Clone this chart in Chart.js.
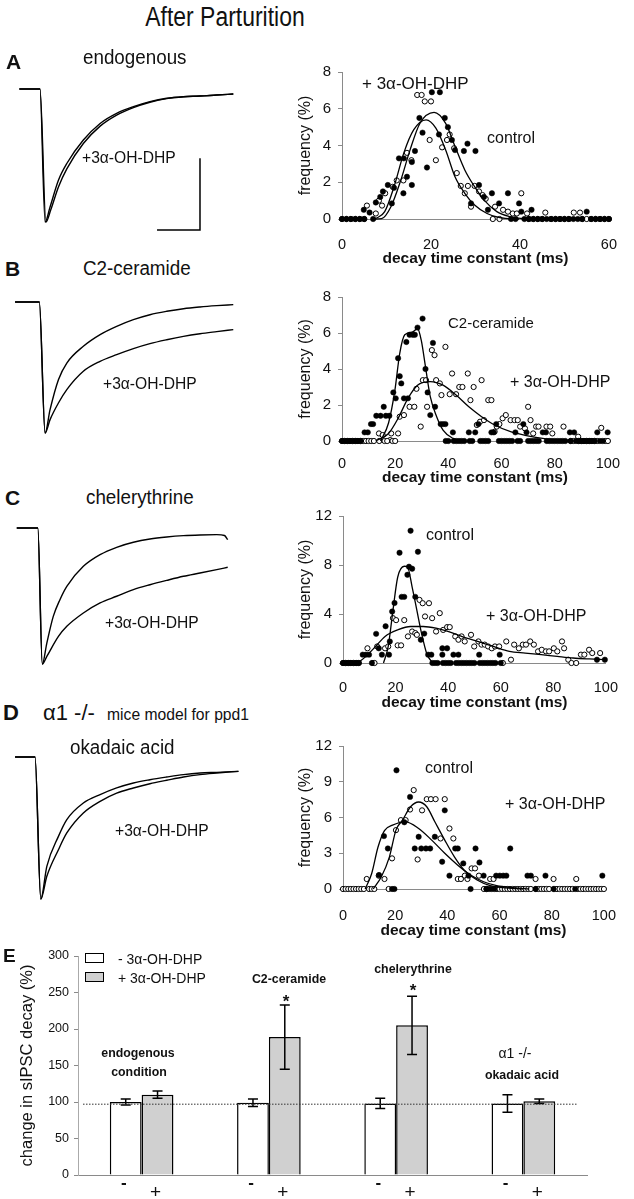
<!DOCTYPE html>
<html>
<head>
<meta charset="utf-8">
<script src="https://cdn.jsdelivr.net/npm/chart.js@4.4.0/dist/chart.umd.min.js"></script>
<style>
  body { margin: 0; background: #fff; }
  #page { position: relative; width: 634px; height: 1199px; overflow: hidden;
          font-family: "Liberation Sans", Arial, sans-serif; color: #111; }
  #page canvas { position: absolute; }
  .lbl { position: absolute; white-space: nowrap; line-height: 1; }
  .box { position: absolute; border: 1.5px solid #000; box-sizing: border-box; }
</style>
</head>
<body>
<div id="page"></div>
<script>
// ---- traces (time in ms, current normalised to control peak) ----
const traceA_ctrl = [[0,0],[9.6,0],[12,-1],[14.3,-0.887],[18.2,-0.686],[22.1,-0.56],[29.8,-0.384],[37.6,-0.259],[45.3,-0.183],[53.1,-0.133],[60.8,-0.095],[68.6,-0.07],[76.4,-0.058],[84.1,-0.053],[91.9,-0.045],[99.6,-0.038]];
const traceA_drug = [[0,0],[9.6,0],[12.4,-1],[14.6,-0.91],[18.2,-0.736],[22.1,-0.6],[29.8,-0.41],[37.6,-0.279],[45.3,-0.196],[53.1,-0.14],[60.8,-0.1],[68.6,-0.072],[76.4,-0.058],[84.1,-0.053],[91.9,-0.045],[99.6,-0.038]];
const scaleBarA = [[64.1,-1.06],[84.1,-1.06],[84.1,-0.52]];
const traceB_ctrl = [[-2,0],[9.3,0],[12,-1],[14.3,-0.822],[18.2,-0.593],[22.1,-0.466],[29.8,-0.338],[37.6,-0.249],[45.3,-0.186],[53.1,-0.135],[60.8,-0.097],[68.6,-0.071],[76.4,-0.051],[84.1,-0.038],[91.9,-0.028],[99.6,-0.02]];
const traceB_drug = [[-2,0],[9.3,0],[12,-1],[14.3,-0.898],[18.2,-0.771],[22.1,-0.669],[29.8,-0.529],[37.6,-0.453],[45.3,-0.402],[53.1,-0.356],[60.8,-0.318],[68.6,-0.288],[76.4,-0.262],[84.1,-0.242],[91.9,-0.226],[99.6,-0.211]];
const traceC_ctrl = [[-1.2,0],[8.6,0],[10.7,-1],[12.8,-0.846],[15.8,-0.65],[18.9,-0.527],[22.1,-0.429],[29.8,-0.282],[37.6,-0.196],[45.3,-0.142],[53.1,-0.105],[60.8,-0.081],[68.6,-0.066],[76.4,-0.056],[84.1,-0.051],[91.9,-0.049],[95.5,-0.055],[97,-0.086]];
const traceC_drug = [[-1.2,0],[8.6,0],[10.7,-1],[12.8,-0.944],[18.2,-0.797],[22.1,-0.723],[29.8,-0.625],[37.6,-0.551],[45.3,-0.502],[53.1,-0.453],[60.8,-0.417],[68.6,-0.385],[76.4,-0.355],[84.1,-0.331],[91.9,-0.306],[97,-0.289]];
const traceD_ctrl = [[-2,0],[7.3,0],[10,-1],[12.8,-0.77],[18.2,-0.559],[22.1,-0.441],[29.8,-0.324],[37.6,-0.265],[45.3,-0.218],[53.1,-0.183],[60.8,-0.16],[68.6,-0.141],[76.4,-0.124],[84.1,-0.113],[91.9,-0.108],[102,-0.101]];
const traceD_drug = [[-2,0],[7.3,0],[10,-1],[12.8,-0.84],[18.2,-0.653],[22.1,-0.535],[29.8,-0.394],[37.6,-0.312],[45.3,-0.254],[53.1,-0.218],[60.8,-0.188],[68.6,-0.164],[76.4,-0.141],[84.1,-0.124],[91.9,-0.113],[102,-0.101]];

// ---- decay time histograms: [tau ms, frequency %] ----
const aCtrl = [[4.9,0.5],[6.2,0.35],[7.6,0.9],[8.6,1.2],[9.2,1.5],[10.3,1.85],[11.2,0.85],[11.7,1.7],[12.8,3.3],[13.8,1.4],[13.9,3.3],[14.6,2.3],[15.7,1.85],[15.7,3.1],[16.4,3.7],[17.4,5.5],[18.1,4.7],[19.1,2.8],[20.2,6.9],[21.8,4.6],[22.0,6.9],[23.1,5.5],[23.8,5.0],[24.7,4.3],[25.4,3.75],[27.4,3.7],[28.2,4.1],[29.0,0.85],[30.0,3.7],[30.8,1.85],[31.9,1.2],[32.8,0.5],[33.7,1.4],[35.3,0.85],[37.3,1.4],[39.8,0.85],[40.3,0.4],[42.6,0.5],[55.0,0.4]];
const aCtrlZero = [0,1,2,3,4,5,7,38,39,41,42,43,44,45,46,47,48,49,50,51,52,53,54,56,57,58,59,60];
const aDrug = [[5.6,0.73],[7.6,0.3],[8.3,1.0],[9.0,0.73],[9.7,1.4],[11.4,1.75],[12.3,2.1],[13.8,2.1],[14.6,3.6],[15.6,3.2],[16.9,6.75],[17.9,6.75],[18.6,6.4],[19.7,4.3],[20.0,6.4],[21.1,3.2],[22.5,3.9],[23.6,4.3],[24.2,4.6],[25.2,3.85],[25.8,2.5],[26.7,1.8],[27.6,1.4],[28.3,1.8],[29.0,0.67],[29.8,1.8],[30.8,1.5],[31.6,1.3],[32.3,1.1],[34.4,0.67],[36.2,0.5],[37.3,0.4],[38.4,0.3],[39.3,0.3],[40.3,1.4],[41.6,0.3],[45.7,0.35],[52.1,0.35],[53.5,0.35]];
const aDrugZero = [0,1,2,3,4,5,33.9,35.4,42,43,44,45,47,48,49,50,51,54,55,56,57,58,59,60];
const aFitCtrl = [[7,0],[8.9,0.02],[11.0,0.67],[13.2,2.1],[15.3,3.76],[17.5,5.2],[20.7,5.8],[23.3,5.2],[25.4,3.95],[27.6,2.67],[29.8,1.76],[31.9,1.04],[34.8,0.4],[37.7,0.13],[41.3,0]];
const aFitDrug = [[7.4,0],[9.6,0.4],[11.7,1.76],[13.9,3.6],[16.1,4.85],[18.9,5.4],[21.1,4.95],[23.3,3.76],[25.4,2.3],[27.6,1.4],[29.8,0.76],[32.6,0.3],[35.5,0.07],[39.8,0]];

const bCtrl = [[8.5,0.48],[9.7,0.48],[10.9,0.94],[11.7,0.94],[12.9,1.4],[14.5,1.4],[15.7,1.9],[16.5,1.4],[17.8,1.4],[19.3,2.7],[20.2,2.37],[21.1,4.6],[21.7,3.6],[22.3,3.2],[23.3,2.37],[24.2,5.5],[24.8,2.37],[25.4,5.9],[26.6,5.9],[27.4,5.9],[28.4,6.3],[30.3,6.8],[31.4,4.0],[32.2,2.7],[33.2,1.44],[34.2,5.45],[35.0,1.9],[37.1,0.94],[38.0,0.94],[38.9,0.94],[41.7,0.48],[47.7,0.48],[50.1,0.48],[51.3,0.94],[56.2,0.48],[57.1,0.48],[58.0,0.94],[65.2,0.48],[68.2,0.94],[69.4,0.48],[75.5,0.48],[76.7,0.48],[85.7,0.48],[87.3,0.48],[96.0,0.48],[99.9,0.48]];
const bCtrlZero = [0,1,2,3,4,5,6,7,39,40,42,43,44,45,46,48,49,52,53,54,55,59,60,61,62,63,64,66,67,70,71,72,73,74,77,78,79,80,81,82,83,84,86,88,89,90,91,92,93,94,95,97,98];
const bDrug = [[13.9,0.42],[15.3,0.33],[18.1,0.05],[18.5,0.42],[21.1,0.42],[21.7,1.35],[23.3,1.44],[25.4,1.9],[27.2,1.9],[28.0,2.9],[29.6,0.8],[30.4,3.38],[31.6,3.38],[32.0,1.9],[33.8,5.05],[34.8,4.77],[35.4,3.38],[36.8,3.2],[37.4,2.55],[38.9,5.23],[40.5,2.6],[41.4,3.75],[42.9,2.6],[44.1,3.0],[45.3,3.0],[47.3,3.75],[48.3,2.27],[49.5,3.0],[50.7,0.89],[51.9,1.07],[52.5,3.38],[53.4,1.16],[55.0,2.27],[56.2,2.27],[57.4,0.52],[58.2,0.8],[59.2,0.94],[60.4,1.26],[61.6,1.44],[63.4,1.16],[64.9,1.16],[66.1,1.16],[67.0,0.8],[68.8,0.7],[70.0,1.9],[70.9,1.16],[71.9,0.42],[73.0,0.8],[73.9,0.8],[76.9,0.8],[78.3,0.8],[79.1,0.42],[83.3,0.8],[88.8,0.24],[97.5,0.73]];
const bDrugZero = [0,1,2,3,4,5,6,7,8,9,10,11,12,14,16,17,19,20,86,87,89,90,91,92,93,94,95,96,99,100];
const bFitCtrl = [[14.5,0],[17.5,1.0],[19.9,2.83],[21.7,4.86],[23.6,5.9],[26.6,6.06],[28.4,6.25],[29.8,5.6],[31.4,4.12],[33.2,2.46],[35.6,1.35],[38.0,0.61],[41.7,0.15],[45.3,0]];
const bFitDrug = [[12.7,0],[17.5,0.42],[21.1,1.26],[24.8,2.37],[28.4,3.1],[33.2,3.3],[38.0,3.1],[42.9,2.55],[47.7,1.9],[52.5,1.35],[57.4,0.89],[63.4,0.52],[69.4,0.3],[75.5,0.15],[81.5,0.06],[87.6,0]];

const cCtrl = [[7.5,0.68],[8.7,0.68],[9.9,0.68],[12.6,2.38],[13.6,1.2],[14.8,0.68],[16.2,3.0],[17.5,0.68],[17.8,1.76],[18.7,4.2],[19.6,4.9],[21.5,9.0],[22.3,5.4],[23.3,5.4],[24.5,7.2],[25.1,7.86],[25.7,10.8],[26.3,7.7],[27.5,5.4],[28.5,9.08],[29.6,1.9],[30.9,2.4],[32.4,0.68],[33.6,0.68],[37.8,1.2],[37.8,0.68],[39.6,1.2],[42.0,0.68],[43.9,0.68],[51.8,0.68],[59.6,0.68],[96.6,0.27],[99.6,0.27]];
const cCtrlZero = [0,1,2,3,4,5,6,11,34,35,36,38,39,40,41,43,44,45,46,47,48,49,50,52,53,54,55,56,57,58,60];
const cDrug = [[9.3,1.2],[13.0,1.35],[16.0,1.2],[17.2,1.35],[19.0,3.66],[20.2,3.5],[20.8,1.44],[22.1,1.44],[23.3,3.5],[24.7,2.17],[26.3,2.57],[27.5,2.44],[28.1,2.3],[29.1,5.15],[30.3,4.88],[31.2,3.8],[32.7,4.88],[33.9,3.66],[35.4,2.57],[36.8,4.07],[38.1,2.7],[39.6,2.93],[40.6,2.93],[42.7,2.17],[43.9,1.9],[45.1,2.17],[46.3,1.76],[48.7,2.3],[49.9,1.35],[51.5,1.76],[52.7,1.5],[53.9,1.5],[55.2,1.35],[56.6,1.2],[57.8,1.35],[59.4,1.35],[62.1,1.76],[63.9,0.27],[65.1,1.5],[66.9,1.2],[68.4,1.5],[69.6,1.5],[71.2,1.76],[72.6,1.5],[74.2,0.95],[75.6,1.08],[77.2,0.95],[78.4,0.95],[80.2,1.2],[81.5,0.95],[83.3,1.76],[84.1,1.2],[85.7,0.27],[90.5,0.68],[91.8,0.68],[93.6,1.08],[94.8,0.81],[97.8,0.81]];
const cDrugZero = [0,1,2,3,4,5,6,11.4,12,60.8,86.9,88.7];
const cFitCtrl = [[15.4,0],[17.2,1.35],[19.0,4.3],[20.8,7.0],[23.3,7.9],[24.5,7.86],[26.3,6.2],[28.1,4.3],[29.9,2.4],[31.8,0.8],[33.6,0.14],[35.4,0]];
const cFitDrug = [[5.7,0],[8.7,0.54],[12.4,1.35],[16.0,2.17],[20.8,2.7],[25.7,2.98],[30.5,2.98],[35.4,2.85],[40.2,2.57],[45.1,2.17],[51.2,1.76],[57.2,1.35],[63.3,0.95],[69.3,0.81],[75.4,0.68],[81.5,0.54],[87.5,0.41],[93.6,0.33],[99.6,0.27]];

const dCtrl = [[13.8,1.17],[15.7,4.44],[17.2,3.4],[20.5,9.96],[23.5,5.6],[25.7,7.73],[27.5,3.4],[29.0,4.38],[30.0,3.4],[31.8,3.4],[33.4,3.4],[35.2,4.38],[38.0,2.29],[39.0,6.6],[40.8,1.12],[43.0,3.4],[44.0,3.4],[46.1,2.15],[48.1,1.12],[50.8,3.4],[52.3,2.23],[53.9,1.12],[58.7,1.12],[60.1,1.12],[61.4,1.12],[62.6,1.12],[64.1,3.4],[70.7,1.12],[72.0,1.12],[77.6,1.12],[99.4,1.12]];
const dCtrlZero = [18.8,19.7,48.9,55,56,57,58,73.8,80.7,89];
const dDrug = [[9.1,0.84],[13.7,1.12],[15.9,0.84],[18.8,2.57],[20.3,4.94],[22.2,5.78],[24.0,5.78],[25.7,6.67],[27.1,8.3],[28.6,2.48],[30.3,6.6],[32.1,7.54],[33.7,7.54],[35.5,7.54],[37.4,4.24],[39.0,7.54],[40.8,5.08],[42.3,4.24],[44.0,0.84],[45.2,0.84],[46.7,1.12],[47.7,0.84],[49.3,1.73],[50.6,1.73],[52.1,1.12],[56.4,0.84],[57.7,0.84],[73.8,0.84],[80.7,0.84],[89.4,0.84]];
const dDrugZero = [0,1,2,3,4,5,6,7,8,10,11,12,17.5,54,55,59,60,61,62,63,64,65,66,67,68,69,70,71,72,74,75,76,77,78,79,81,82,83,84,85,86,87,88,90,91,92,93,94,95,96,97,98,99,100];
const dFitCtrl = [[8.5,0],[11.0,1.3],[13.4,3.5],[15.9,4.9],[19.0,5.36],[24.0,5.64],[29.0,5.08],[34.0,4.1],[39.0,3.0],[44.0,2.0],[48.9,1.17],[53.9,0.61],[58.9,0.28],[65.1,0.11],[71.4,0]];
const dFitDrug = [[11.6,0],[14.7,1.03],[17.8,2.7],[20.3,4.94],[22.8,5.78],[25.9,6.9],[29.0,7.3],[32.1,6.9],[35.2,5.64],[39.0,4.1],[42.7,2.7],[46.4,1.6],[51.4,0.75],[56.4,0.28],[61.4,0.11],[68.9,0]];

// ---- panel E: change in sIPSC decay (%) ----
const groups = ["endogenous condition", "C2-ceramide", "chelerythrine", "α1 -/- okadaic acid"];
const minusMean = [100, 99, 98, 98];
const minusErr = [4, 5, 7, 12];
const plusMean = [110, 189, 205, 101];
const plusErr = [5, 44, 40, 3];
const refLevel = 97;

Chart.defaults.font.family = '"Liberation Sans", Arial, sans-serif';
Chart.defaults.color = '#111';

const page = document.getElementById('page');
const toXY = arr => arr.map(p => ({ x: p[0], y: p[1] }));
const zeros = arr => arr.map(x => ({ x: x, y: 0 }));

function makeCanvas(left, top, w, h) {
  const c = document.createElement('canvas');
  c.width = w; c.height = h;
  c.style.left = left + 'px'; c.style.top = top + 'px';
  c.style.width = w + 'px'; c.style.height = h + 'px';
  page.appendChild(c);
  return c;
}

function label(text, x, y, size, opts) {
  opts = opts || {};
  const d = document.createElement('div');
  d.className = 'lbl';
  d.textContent = text;
  d.style.left = x + 'px';
  d.style.top = y + 'px';
  d.style.fontSize = size + 'px';
  if (opts.bold) d.style.fontWeight = 'bold';
  const s = opts.scale || 1;
  if (opts.center) {
    d.style.transformOrigin = 'center center';
    d.style.transform = 'translate(-50%,-50%) scaleX(' + s + ')';
  } else {
    d.style.transformOrigin = 'left center';
    d.style.transform = 'translateY(-50%) scaleX(' + s + ')';
  }
  page.appendChild(d);
}

// left column: averaged current traces
function traceChart(lay, traces, extra) {
  const amp = lay.peak - lay.base;
  const sets = traces.map(t => ({
    data: toXY(t), borderColor: '#000', borderWidth: 1.4, pointRadius: 0,
    cubicInterpolationMode: 'monotone', fill: false
  }));
  if (extra) {
    sets.push({ data: toXY(extra), borderColor: '#000', borderWidth: 1.5, pointRadius: 0, tension: 0, fill: false });
  }
  new Chart(makeCanvas(0, lay.top, 290, lay.h), {
    type: 'line',
    data: { datasets: sets },
    options: {
      responsive: false, animation: false, devicePixelRatio: 1, events: [],
      layout: { padding: 0 },
      plugins: { legend: { display: false }, tooltip: { enabled: false } },
      scales: {
        x: { type: 'linear', display: false, min: -9, max: 126 },
        y: { display: false, min: -(lay.top + lay.h - lay.base) / amp, max: (lay.base - lay.top) / amp }
      }
    }
  });
}

// right column: decay-time histograms with fits
function histChart(p) {
  const box = p.box, area = p.area;
  new Chart(makeCanvas(box.left, box.top, box.w, box.h), {
    type: 'scatter',
    data: {
      datasets: [
        { data: toXY(p.fitCtrl), showLine: true, borderColor: '#000', borderWidth: 1.3, pointRadius: 0, cubicInterpolationMode: 'monotone', order: 0, clip: false },
        { data: toXY(p.fitDrug), showLine: true, borderColor: '#000', borderWidth: 1.3, pointRadius: 0, cubicInterpolationMode: 'monotone', order: 0, clip: false },
        { data: toXY(p.ctrl).concat(zeros(p.ctrlZero)), pointRadius: 2.7, backgroundColor: '#000', borderColor: '#000', borderWidth: 0.5, order: 1, clip: false },
        { data: toXY(p.drug).concat(zeros(p.drugZero)), pointRadius: 2.6, backgroundColor: '#fff', borderColor: '#000', borderWidth: 1, order: 2, clip: false }
      ]
    },
    options: {
      responsive: false, animation: false, devicePixelRatio: 1, events: [],
      layout: { padding: { top: area.top - box.top, right: box.left + box.w - area.right, left: 0, bottom: 0 } },
      plugins: { legend: { display: false }, tooltip: { enabled: false } },
      scales: {
        x: {
          type: 'linear', min: 0, max: p.xMax,
          ticks: { stepSize: 20, padding: p.xPad, font: { size: 14.5 }, color: '#111' },
          grid: { display: false, drawTicks: false },
          border: { color: '#8a8a8a', width: 1 },
          title: { display: true, text: 'decay time constant (ms)', font: { size: 15.5, weight: 'bold' }, color: '#111', padding: { top: 0, bottom: p.titlePad } },
          afterFit: s => { s.height = box.top + box.h - area.bottom; }
        },
        y: {
          min: 0, max: p.yMax,
          ticks: { stepSize: p.yStep, padding: 7, font: { size: 15 }, color: '#111' },
          grid: { drawOnChartArea: false, tickLength: 4, color: '#8a8a8a' },
          border: { color: '#8a8a8a', width: 1 },
          title: { display: true, text: 'frequency (%)', font: { size: 16 }, color: '#111', padding: { top: 6, bottom: 0 } },
          afterFit: s => { s.width = area.left - box.left; }
        }
      }
    }
  });
}

traceChart({ top: 40, h: 200, base: 89, peak: 222 }, [traceA_ctrl, traceA_drug], scaleBarA);
traceChart({ top: 280, h: 170, base: 302, peak: 433 }, [traceB_ctrl, traceB_drug]);
traceChart({ top: 510, h: 170, base: 528, peak: 664 }, [traceC_ctrl, traceC_drug]);
traceChart({ top: 740, h: 175, base: 757, peak: 899 }, [traceD_ctrl, traceD_drug]);

histChart({ box: { left: 290, top: 40, w: 344, h: 230 }, area: { left: 342, right: 620, top: 72, bottom: 219 },
  xMax: 60, yMax: 8, yStep: 2, xPad: 17, titlePad: 2,
  ctrl: aCtrl, ctrlZero: aCtrlZero, drug: aDrug, drugZero: aDrugZero, fitCtrl: aFitCtrl, fitDrug: aFitDrug });
histChart({ box: { left: 290, top: 270, w: 344, h: 220 }, area: { left: 342, right: 618, top: 297, bottom: 441 },
  xMax: 100, yMax: 8, yStep: 2, xPad: 14, titlePad: 3,
  ctrl: bCtrl, ctrlZero: bCtrlZero, drug: bDrug, drugZero: bDrugZero, fitCtrl: bFitCtrl, fitDrug: bFitDrug });
histChart({ box: { left: 290, top: 500, w: 344, h: 215 }, area: { left: 343, right: 618, top: 516, bottom: 663 },
  xMax: 100, yMax: 12, yStep: 4, xPad: 16, titlePad: 3,
  ctrl: cCtrl, ctrlZero: cCtrlZero, drug: cDrug, drugZero: cDrugZero, fitCtrl: cFitCtrl, fitDrug: cFitDrug });
histChart({ box: { left: 290, top: 730, w: 344, h: 215 }, area: { left: 343, right: 610, top: 746, bottom: 889 },
  xMax: 100, yMax: 12, yStep: 3, xPad: 18, titlePad: 5,
  ctrl: dCtrl, ctrlZero: dCtrlZero, drug: dDrug, drugZero: dDrugZero, fitCtrl: dFitCtrl, fitDrug: dFitDrug });

// ---- panel E bar chart ----
const errorBars = {
  id: 'errorBars',
  afterDatasetsDraw(chart) {
    const ctx = chart.ctx, ys = chart.scales.y;
    [minusErr, plusErr].forEach((errs, di) => {
      chart.getDatasetMeta(di).data.forEach((bar, i) => {
        const v = chart.data.datasets[di].data[i];
        const t = ys.getPixelForValue(v + errs[i]), b = ys.getPixelForValue(v - errs[i]);
        ctx.save();
        ctx.strokeStyle = '#000'; ctx.lineWidth = 1.5;
        ctx.beginPath();
        ctx.moveTo(bar.x, t); ctx.lineTo(bar.x, b);
        ctx.moveTo(bar.x - 5, t); ctx.lineTo(bar.x + 5, t);
        ctx.moveTo(bar.x - 5, b); ctx.lineTo(bar.x + 5, b);
        ctx.stroke();
        ctx.restore();
      });
    });
  }
};

const refLine = {
  id: 'refLine',
  afterDatasetsDraw(chart) {
    const ctx = chart.ctx, a = chart.chartArea;
    const y = chart.scales.y.getPixelForValue(refLevel);
    ctx.save();
    ctx.strokeStyle = '#333'; ctx.lineWidth = 1; ctx.setLineDash([1.5, 1.5]);
    ctx.beginPath(); ctx.moveTo(a.left + 5, y); ctx.lineTo(a.right - 10, y); ctx.stroke();
    ctx.restore();
  }
};

const signs = {
  id: 'signs',
  afterDraw(chart) {
    const ctx = chart.ctx, base = chart.scales.y.getPixelForValue(0);
    ctx.save();
    ctx.fillStyle = '#111'; ctx.textAlign = 'center'; ctx.textBaseline = 'alphabetic';
    chart.getDatasetMeta(0).data.forEach(bar => {
      ctx.font = 'bold 17px "Liberation Sans", Arial, sans-serif';
      ctx.fillText('-', bar.x - 2, base + 13);
    });
    chart.getDatasetMeta(1).data.forEach(bar => {
      ctx.font = '19px "Liberation Sans", Arial, sans-serif';
      ctx.fillText('+', bar.x - 2, base + 23);
    });
    ctx.restore();
  }
};

const eBox = { left: 0, top: 940, w: 634, h: 259 };
const eArea = { left: 78, right: 587, top: 956, bottom: 1175 };
new Chart(makeCanvas(eBox.left, eBox.top, eBox.w, eBox.h), {
  type: 'bar',
  data: {
    labels: groups,
    datasets: [
      { label: '- 3α-OH-DHP', data: minusMean, backgroundColor: '#fff', borderColor: '#000', borderWidth: 1.5 },
      { label: '+ 3α-OH-DHP', data: plusMean, backgroundColor: '#d0d0d0', borderColor: '#000', borderWidth: 1.5 }
    ]
  },
  options: {
    responsive: false, animation: false, devicePixelRatio: 1, events: [],
    categoryPercentage: 0.5, barPercentage: 1.0,
    layout: { padding: { top: eArea.top - eBox.top, right: eBox.left + eBox.w - eArea.right, left: 0, bottom: 0 } },
    plugins: { legend: { display: false }, tooltip: { enabled: false } },
    scales: {
      x: {
        ticks: { display: false },
        grid: { display: false, drawTicks: false },
        border: { color: '#8a8a8a', width: 1 },
        afterFit: s => { s.height = eBox.top + eBox.h - eArea.bottom; }
      },
      y: {
        min: 0, max: 300,
        ticks: { stepSize: 50, padding: 5, font: { size: 12.5 }, color: '#111' },
        grid: { drawOnChartArea: false, tickLength: 4, color: '#8a8a8a' },
        border: { color: '#aaa', width: 1 },
        title: { display: true, text: 'change in sIPSC decay (%)', font: { size: 16.5 }, color: '#111', padding: { top: 18, bottom: 0 } },
        afterFit: s => { s.width = eArea.left - eBox.left; }
      }
    }
  },
  plugins: [errorBars, refLine, signs]
});

// ---- text ----
label('After Parturition', 225, 17, 27, { center: true, scale: 0.85 });

label('A', 6, 61, 21, { bold: true });
label('endogenous', 83, 57, 20, { scale: 0.94 });
label('+3α-OH-DHP', 82, 157, 17, { scale: 0.92 });

label('B', 5, 268, 21, { bold: true });
label('C2-ceramide', 83, 268, 20, { scale: 0.94 });
label('+3α-OH-DHP', 103, 383, 17, { scale: 0.92 });

label('C', 5, 497, 21, { bold: true });
label('chelerythrine', 86, 497, 20, { scale: 0.94 });
label('+3α-OH-DHP', 105, 622, 17, { scale: 0.92 });

label('D', 3, 713, 22, { bold: true });
label('α1 -/-', 43, 713, 22);
label('mice model for ppd1', 107, 714, 16.5, { scale: 0.95 });
label('okadaic acid', 70, 747, 20, { scale: 0.94 });
label('+3α-OH-DHP', 115, 830, 17, { scale: 0.92 });

label('+ 3α-OH-DHP', 362, 83, 17);
label('control', 487, 138, 16);
label('C2-ceramide', 448, 322, 15);
label('+ 3α-OH-DHP', 510, 382, 16);
label('control', 426, 535, 16);
label('+ 3α-OH-DHP', 486, 616, 16);
label('control', 425, 768, 16);
label('+ 3α-OH-DHP', 505, 804, 16);

label('E', 3, 955, 19, { bold: true });
const b1 = document.createElement('div');
b1.className = 'box';
b1.style.cssText = 'left:85px;top:953px;width:19px;height:10px;background:#fff;';
page.appendChild(b1);
const b2 = document.createElement('div');
b2.className = 'box';
b2.style.cssText = 'left:85px;top:972px;width:19px;height:10px;background:#d0d0d0;';
page.appendChild(b2);
label('- 3α-OH-DHP', 118, 959, 14);
label('+ 3α-OH-DHP', 118, 978, 14);

label('endogenous', 138, 1052, 13, { bold: true, center: true, scale: 0.95 });
label('condition', 139, 1071, 13, { bold: true, center: true, scale: 0.95 });
label('C2-ceramide', 289, 978, 13, { bold: true, center: true, scale: 0.95 });
label('*', 286, 1001, 17, { bold: true, center: true });
label('chelerythrine', 413, 968, 13, { bold: true, center: true, scale: 0.95 });
label('*', 413, 990, 17, { bold: true, center: true });
label('α1 -/-', 515, 1053, 14, { center: true });
label('okadaic acid', 522, 1074, 13, { bold: true, center: true, scale: 0.95 });
</script>
</body>
</html>
